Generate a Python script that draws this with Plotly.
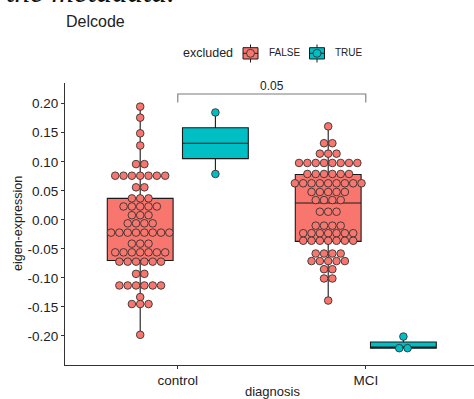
import plotly.graph_objects as go
from collections import Counter

# ---------------- data ----------------
categories = ["control", "MCI"]
groups = ["FALSE", "TRUE"]
colors = {"FALSE": "#F8766D", "TRUE": "#00BFC4"}

control_false = ([0.195, 0.176, 0.149, 0.128] + [0.096] * 2 + [0.076] * 7 + [0.056] * 2
                 + [0.037] * 3 + [0.023] * 5 + [0.008] * 3 + [-0.006] * 4 + [-0.022] * 8
                 + [-0.041] * 3 + [-0.056] * 7 + [-0.072] * 6 + [-0.093] * 2 + [-0.113] * 6
                 + [-0.133] + [-0.145] * 3 + [-0.198])
control_true = [0.185, 0.079]
mci_false = ([0.161] + [0.132] * 2 + [0.114] * 3 + [0.098] * 8 + [0.079] * 6 + [0.063] * 9
             + [0.048] * 5 + [0.034] * 4 + [0.014] * 3 + [-0.010] * 4 + [-0.023] * 7
             + [-0.036] * 7 + [-0.058] * 4 + [-0.071] * 5 + [-0.085] * 2 + [-0.101] * 2 + [-0.139])
mci_true = [-0.201, -0.221, -0.221]

# box summary statistics: (lower whisker, q1, median, q3, upper whisker)
box_control_false = (-0.198, -0.070, -0.022, 0.037, 0.195)
box_control_true = (0.079, 0.1055, 0.132, 0.1585, 0.185)
box_mci_false = (-0.139, -0.037, 0.029, 0.078, 0.161)
box_mci_true = (-0.222, -0.221, -0.220, -0.2105, -0.201)

y_ticks = [-0.20, -0.15, -0.10, -0.05, 0.00, 0.05, 0.10, 0.15, 0.20]
y_tick_labels = ["-0.20", "-0.15", "-0.10", "-0.05", "0.00", "0.05", "0.10", "0.15", "0.20"]

p_value_label = "0.05"
bracket_y = 0.2167
bracket_tip_y = 0.202

series = {
    ("control", "FALSE"): (control_false, box_control_false),
    ("control", "TRUE"): (control_true, box_control_true),
    ("MCI", "FALSE"): (mci_false, box_mci_false),
    ("MCI", "TRUE"): (mci_true, box_mci_true),
}

# ---------------- layout geometry ----------------
W, H = 474, 399
L, R, T, B = 65, 474, 83, 365
X_RANGE = [0.4, 0.4 + (R - L) / 188.0]
Y_RANGE = [-0.25, 0.2357]
DODGE = 0.2
BOX_W = 0.35
DOT_STEP = 8.33 / 188.0  # dot diameter in x data units
INK = "#222222"
FONT = "Liberation Sans, Arial, sans-serif"


def pxx(x):
    return (x - L) / (R - L)


def pyy(y):
    return (B - y) / (B - T)


fig = go.Figure()

# boxes
for (cat, grp), (vals, stats) in series.items():
    xc = categories.index(cat) + 1 + (-DODGE if grp == "FALSE" else DODGE)
    lo, q1, med, q3, hi = stats
    fig.add_trace(go.Box(
        x=[xc], q1=[q1], median=[med], q3=[q3], lowerfence=[lo], upperfence=[hi],
        width=BOX_W, fillcolor=colors[grp], line=dict(color="#1a1a1a", width=1.1),
        whiskerwidth=0, boxpoints=False, showlegend=False, hoverinfo="skip",
    ))

# dots (centered stacks per bin)
for (cat, grp), (vals, stats) in series.items():
    xc = categories.index(cat) + 1 + (-DODGE if grp == "FALSE" else DODGE)
    counts = Counter(vals)
    xs, ys = [], []
    for v, n in counts.items():
        for i in range(n):
            xs.append(xc + (i - (n - 1) / 2.0) * DOT_STEP)
            ys.append(v)
    fig.add_trace(go.Scatter(
        x=xs, y=ys, mode="markers",
        marker=dict(size=7.6, color=colors[grp], line=dict(color="#333333", width=0.9)),
        showlegend=False, hoverinfo="skip",
    ))

# significance bracket
fig.add_trace(go.Scatter(
    x=[1, 1, 2, 2], y=[bracket_tip_y, bracket_y, bracket_y, bracket_tip_y],
    mode="lines", line=dict(color="#7a7a7a", width=1.1), showlegend=False, hoverinfo="skip",
))

annotations = [
    dict(x=1.5, y=bracket_y, xref="x", yref="y", text=p_value_label, showarrow=False,
         yanchor="bottom", yshift=-1, font=dict(size=12, color=INK, family=FONT)),
    # title
    dict(x=pxx(64), y=pyy(22), xref="paper", yref="paper", text="Delcode", showarrow=False,
         xanchor="left", yanchor="middle", font=dict(size=16, color=INK, family=FONT)),
    # cropped text of surrounding document
    dict(x=pxx(4), y=pyy(-8), xref="paper", yref="paper", text="<i>the metadata.</i>",
         showarrow=False, xanchor="left", yanchor="middle",
         font=dict(size=31, color="#111111", family="Liberation Serif, Times New Roman, serif")),
    # axis titles
    dict(x=pxx(18), y=pyy(224), xref="paper", yref="paper", text="eigen-expression",
         showarrow=False, textangle=-90, xanchor="center", yanchor="middle",
         font=dict(size=12.5, color=INK, family=FONT)),
    dict(x=pxx(272), y=pyy(391), xref="paper", yref="paper", text="diagnosis",
         showarrow=False, xanchor="center", yanchor="middle",
         font=dict(size=13, color=INK, family=FONT)),
    # legend title
    dict(x=pxx(181), y=pyy(53), xref="paper", yref="paper", text="excluded",
         showarrow=False, xanchor="left", yanchor="middle",
         font=dict(size=12.5, color=INK, family=FONT)),
]

shapes = []
legend_items = [("FALSE", 250.5, 267), ("TRUE", 317, 333)]
for grp, kx, tx in legend_items:
    annotations.append(dict(x=pxx(tx), y=pyy(53), xref="paper", yref="paper", text=grp,
                            showarrow=False, xanchor="left", yanchor="middle",
                            font=dict(size=10, color=INK, family=FONT)))
    shapes.append(dict(type="line", xref="paper", yref="paper", x0=pxx(kx), x1=pxx(kx),
                       y0=pyy(44.5), y1=pyy(62.5), line=dict(color="#1a1a1a", width=1)))
    shapes.append(dict(type="rect", xref="paper", yref="paper", x0=pxx(kx - 7.5), x1=pxx(kx + 7.5),
                       y0=pyy(47.7), y1=pyy(59), fillcolor=colors[grp],
                       line=dict(color="#1a1a1a", width=1)))
    shapes.append(dict(type="line", xref="paper", yref="paper", x0=pxx(kx - 7.5), x1=pxx(kx + 7.5),
                       y0=pyy(53.3), y1=pyy(53.3), line=dict(color="#1a1a1a", width=1)))
    shapes.append(dict(type="circle", xref="paper", yref="paper", x0=pxx(kx - 4), x1=pxx(kx + 4),
                       y0=pyy(49.3), y1=pyy(57.3), fillcolor=colors[grp],
                       line=dict(color="#333333", width=0.9)))

fig.update_layout(
    width=W, height=H,
    margin=dict(l=L, r=W - R, t=T, b=H - B, pad=0),
    paper_bgcolor="white", plot_bgcolor="white",
    showlegend=False,
    annotations=annotations, shapes=shapes,
    xaxis=dict(range=X_RANGE, tickmode="array", tickvals=[1, 2], ticktext=categories,
               showgrid=False, zeroline=False, showline=True, linecolor="#333333", linewidth=1.1,
               ticks="outside", ticklen=3, tickcolor="#333333", tickwidth=1,
               tickfont=dict(size=13.5, color=INK, family=FONT)),
    yaxis=dict(range=Y_RANGE, tickmode="array", tickvals=y_ticks, ticktext=y_tick_labels,
               showgrid=False, zeroline=False, showline=True, linecolor="#333333", linewidth=1.1,
               ticks="outside", ticklen=3, tickcolor="#333333", tickwidth=1,
               tickfont=dict(size=13.5, color=INK, family=FONT)),
    font=dict(family=FONT, color=INK),
)

fig.write_html(
    "out.html",
    config={"displayModeBar": False},
    post_script="document.body.style.margin='0';document.body.style.overflow='hidden';",
)
